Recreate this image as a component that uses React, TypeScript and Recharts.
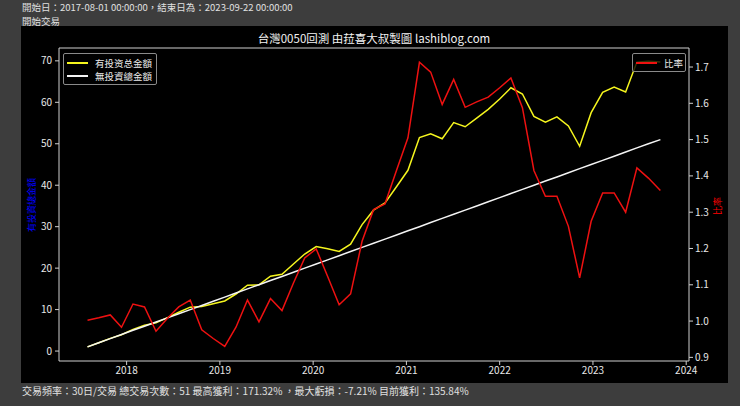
import React from "react";
import { ComposedChart, Line, XAxis, YAxis, ReferenceLine } from "recharts";

// one point every 30 trading days
const dates = [
  "2017-08-01", "2017-09-14", "2017-10-29", "2017-12-12", "2018-01-26",
  "2018-03-12", "2018-04-26", "2018-06-10", "2018-07-24", "2018-09-07",
  "2018-10-22", "2018-12-06", "2019-01-20", "2019-03-05", "2019-04-19",
  "2019-06-03", "2019-07-18", "2019-09-01", "2019-10-16", "2019-11-29",
  "2020-01-13", "2020-02-27", "2020-04-12", "2020-05-27", "2020-07-11",
  "2020-08-25", "2020-10-09", "2020-11-23", "2021-01-07", "2021-02-21",
  "2021-04-06", "2021-05-21", "2021-07-05", "2021-08-19", "2021-10-03",
  "2021-11-17", "2022-01-01", "2022-02-14", "2022-03-31", "2022-05-15",
  "2022-06-29", "2022-08-13", "2022-09-27", "2022-11-10", "2022-12-25",
  "2023-02-08", "2023-03-25", "2023-05-09", "2023-06-22", "2023-08-06",
  "2023-09-22",
];

// 有投资总金額 (yellow, left axis)
const withInvest = [
  1.0, 2.02, 3.05, 3.93, 5.24, 6.23, 6.8, 8.06, 9.35, 10.58,
  10.74, 11.42, 12.09, 13.76, 15.87, 15.97, 18.05, 18.52, 21.0, 23.4,
  25.2, 24.7, 24.04, 25.8, 30.5, 33.98, 35.72, 39.62, 43.6, 51.5,
  52.4, 51.2, 55.1, 54.1, 56.2, 58.3, 60.8, 63.5, 62.0, 56.6,
  55.2, 56.5, 54.3, 49.4, 57.5, 62.4, 63.7, 62.5, 69.7, 69.9,
  69.7,
];

// 無投資總金額 (white, left axis)
const noInvest = [
  1, 2, 3, 4, 5, 6, 7, 8, 9, 10,
  11, 12, 13, 14, 15, 16, 17, 18, 19, 20,
  21, 22, 23, 24, 25, 26, 27, 28, 29, 30,
  31, 32, 33, 34, 35, 36, 37, 38, 39, 40,
  41, 42, 43, 44, 45, 46, 47, 48, 49, 50,
  51,
];

// 比率 (red, right axis)
const ratio = [
  1.002, 1.009, 1.017, 0.983, 1.047, 1.039, 0.972, 1.008, 1.039, 1.058,
  0.976, 0.952, 0.93, 0.983, 1.058, 0.998, 1.062, 1.029, 1.105, 1.174,
  1.199, 1.123, 1.045, 1.075, 1.22, 1.307, 1.323, 1.415, 1.505, 1.713,
  1.686, 1.597, 1.666, 1.589, 1.604, 1.617, 1.643, 1.67, 1.588, 1.415,
  1.344, 1.344, 1.261, 1.119, 1.275, 1.353, 1.353, 1.3, 1.422, 1.394,
  1.36,
];

const yearTicks = [2018, 2019, 2020, 2021, 2022, 2023, 2024];
const leftTicks = [0, 10, 20, 30, 40, 50, 60, 70];
const rightTicks = [0.9, 1.0, 1.1, 1.2, 1.3, 1.4, 1.5, 1.6, 1.7];

const FONT = '"Noto Sans CJK TC", "DejaVu Sans", sans-serif';
const LEFT_DOMAIN: [number, number] = [-2.4, 73.1];
const RIGHT_DOMAIN: [number, number] = [0.89, 1.7524];

/** "YYYY-MM-DD" -> decimal year */
function toYear(s: string): number {
  const [y, m, d] = s.split("-").map(Number);
  const start = Date.UTC(y, 0, 1);
  const end = Date.UTC(y + 1, 0, 1);
  return y + (Date.UTC(y, m - 1, d) - start) / (end - start);
}

const data = dates.map((d, i) => ({
  t: toYear(d),
  withInvest: withInvest[i],
  noInvest: noInvest[i],
  ratio: ratio[i],
}));

const tickStyle = { fill: "#e8e8e8", fontSize: 10, fontFamily: FONT };
const axisStroke = { stroke: "#cfcfcf" };

function LegendRow({ color, label }: { color: string; label: string }) {
  return (
    <div style={{ display: "flex", alignItems: "center", height: 13 }}>
      <div style={{ width: 21, height: 0, borderTop: `2px solid ${color}`, marginRight: 7 }} />
      <span>{label}</span>
    </div>
  );
}

export default function App() {
  return (
    <div
      style={{
        position: "absolute",
        left: 0,
        top: 0,
        width: 740,
        height: 406,
        background: "#3d3d3d",
        fontFamily: FONT,
        overflow: "hidden",
        color: "#e0e0e0",
      }}
    >
      <div style={{ position: "absolute", left: 22, top: 0, fontSize: 9.5, lineHeight: "14px", whiteSpace: "nowrap" }}>
        開始日：2017-08-01 00:00:00，結束日為：2023-09-22 00:00:00
      </div>

      <div style={{ position: "absolute", left: 21, top: 26, width: 707, height: 357, background: "#000" }} />

      <div style={{ position: "absolute", left: 0, top: 0 }}>
        <ComposedChart
          width={740}
          height={406}
          data={data}
          margin={{ top: 48, right: 11, bottom: 25, left: 29 }}
        >
          <XAxis
            dataKey="t"
            type="number"
            domain={[2017.275, 2024.03]}
            allowDataOverflow
            ticks={yearTicks}
            tick={tickStyle}
            tickLine={axisStroke}
            axisLine={axisStroke}
            tickSize={4}
            tickMargin={2}
            height={20}
          />
          <YAxis
            yAxisId="left"
            domain={LEFT_DOMAIN}
            allowDataOverflow
            ticks={leftTicks}
            tick={tickStyle}
            tickLine={axisStroke}
            axisLine={axisStroke}
            tickSize={4}
            tickMargin={3}
            width={30}
          />
          <YAxis
            yAxisId="right"
            orientation="right"
            domain={RIGHT_DOMAIN}
            allowDataOverflow
            ticks={rightTicks}
            tickFormatter={(v: number) => v.toFixed(1)}
            tick={tickStyle}
            tickLine={axisStroke}
            axisLine={axisStroke}
            tickSize={4}
            tickMargin={2}
            width={40}
          />
          <ReferenceLine yAxisId="left" y={LEFT_DOMAIN[1]} stroke="#cfcfcf" />
          <Line
            yAxisId="left"
            type="linear"
            dataKey="withInvest"
            stroke="#f5f51e"
            strokeWidth={1.5}
            dot={false}
            isAnimationActive={false}
          />
          <Line
            yAxisId="left"
            type="linear"
            dataKey="noInvest"
            stroke="#f4f4f4"
            strokeWidth={1.5}
            dot={false}
            isAnimationActive={false}
          />
          <Line
            yAxisId="right"
            type="linear"
            dataKey="ratio"
            stroke="#ee1111"
            strokeWidth={1.5}
            dot={false}
            isAnimationActive={false}
          />
        </ComposedChart>
      </div>

      <div style={{ position: "absolute", left: 22, top: 14, fontSize: 9.5, lineHeight: "14px", whiteSpace: "nowrap" }}>
        開始交易
      </div>

      <div
        style={{
          position: "absolute",
          left: 374,
          top: 38,
          transform: "translate(-50%, -50%)",
          fontSize: 11.5,
          color: "#f2f2f2",
          whiteSpace: "nowrap",
        }}
      >
        台灣0050回測 由菈喜大叔製圖 lashiblog.com
      </div>

      <div
        style={{
          position: "absolute",
          left: 31,
          top: 205,
          transform: "translate(-50%, -50%) rotate(-90deg)",
          fontSize: 9,
          color: "#0000ff",
          whiteSpace: "nowrap",
        }}
      >
        有投資總金額
      </div>
      <div
        style={{
          position: "absolute",
          left: 717,
          top: 206,
          transform: "translate(-50%, -50%) rotate(-90deg)",
          fontSize: 9,
          color: "#ff0000",
          whiteSpace: "nowrap",
        }}
      >
        比率
      </div>

      <div
        style={{
          position: "absolute",
          left: 63,
          top: 53,
          width: 89,
          padding: "2px 0 2px 3px",
          border: "1px solid #8a8a8a",
          borderRadius: 2,
          background: "rgba(0,0,0,0.8)",
          fontSize: 9.5,
          color: "#ececec",
        }}
      >
        <LegendRow color="#f5f51e" label="有投资总金額" />
        <LegendRow color="#f4f4f4" label="無投資總金額" />
      </div>
      <div
        style={{
          position: "absolute",
          left: 632,
          top: 53,
          width: 49,
          padding: "2px 0 2px 3px",
          border: "1px solid #8a8a8a",
          borderRadius: 2,
          background: "rgba(0,0,0,0.8)",
          fontSize: 9.5,
          color: "#ececec",
        }}
      >
        <LegendRow color="#ee1111" label="比率" />
      </div>

      <div style={{ position: "absolute", left: 22, top: 384, fontSize: 10, lineHeight: "13px", whiteSpace: "nowrap" }}>
        交易頻率：30日/交易 總交易次數：51 最高獲利：171.32% ，最大虧損：-7.21% 目前獲利：135.84%
      </div>
    </div>
  );
}
